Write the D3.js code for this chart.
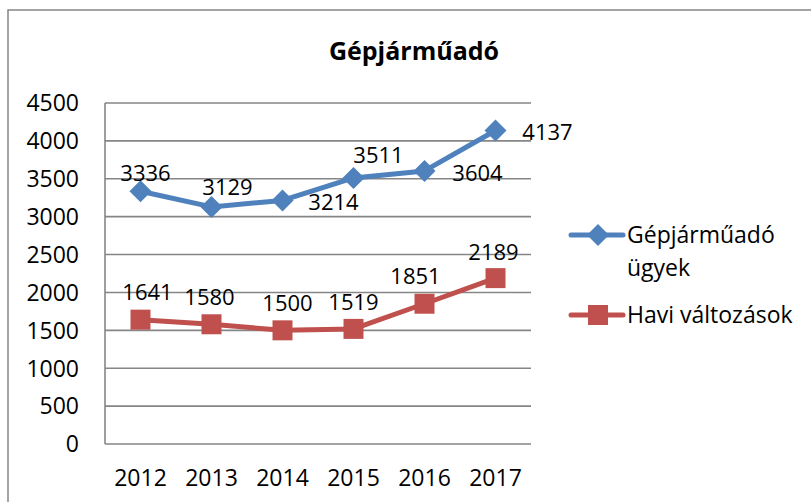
<!DOCTYPE html>
<html>
<head>
<meta charset="utf-8">
<script src="https://cdn.jsdelivr.net/npm/d3@7"></script>
<style>
  body { margin: 0; background: #fff; }
  text { font-family: "Open Sans", "Liberation Sans", sans-serif; fill: #000; }
</style>
</head>
<body>
<svg id="chart" width="811" height="502"></svg>
<script>
// data
var years = ["2012", "2013", "2014", "2015", "2016", "2017"];
var ugyek = [3336, 3129, 3214, 3511, 3604, 4137];   // Gépjárműadó ügyek
var havi = [1641, 1580, 1500, 1519, 1851, 2189];    // Havi változások
var yTicks = [0, 500, 1000, 1500, 2000, 2500, 3000, 3500, 4000, 4500];
var seriesNames = [["Gépjárműadó", "ügyek"], ["Havi változások"]];

// label offsets (manual placement like in the original)
var ugyekOff = [[5, -18], [16, -20], [51, 2], [25, -23], [53, 2], [52, 2]];
var haviOff = [[7, -28], [-2, -27], [5, -27], [0, -27], [-9, -28], [-2, -26]];

var svg = d3.select("#chart");

// outer chart border (only left/top visible in the picture)
svg.append("rect")
    .attr("x", 8).attr("y", 10)
    .attr("width", 900).attr("height", 600)
    .attr("fill", "none")
    .attr("stroke", "#878787")
    .attr("stroke-width", 1.5);

var plot = { left: 105, top: 103, right: 531, bottom: 444 };

var x = d3.scaleBand().domain(years).range([plot.left, plot.right]);
var y = d3.scaleLinear().domain([0, 4500]).range([plot.bottom, plot.top]);
var cx = function(d) { return x(d) + x.bandwidth() / 2; };

// gridlines
svg.append("g").selectAll("line")
    .data(yTicks)
    .enter().append("line")
    .attr("x1", plot.left).attr("x2", plot.right)
    .attr("y1", function(d) { return y(d); })
    .attr("y2", function(d) { return y(d); })
    .attr("stroke", "#868686")
    .attr("stroke-width", 1.6);

// y axis line
svg.append("line")
    .attr("x1", plot.left).attr("x2", plot.left)
    .attr("y1", plot.top).attr("y2", plot.bottom)
    .attr("stroke", "#868686").attr("stroke-width", 1.6);

// y tick labels
svg.append("g").selectAll("text")
    .data(yTicks)
    .enter().append("text")
    .attr("x", 79)
    .attr("y", function(d) { return y(d); })
    .attr("dy", "0.36em")
    .attr("text-anchor", "end")
    .style("font-size", "23px")
    .text(function(d) { return d; });

// x tick labels
svg.append("g").selectAll("text")
    .data(years)
    .enter().append("text")
    .attr("x", cx)
    .attr("y", 486)
    .attr("text-anchor", "middle")
    .style("font-size", "23px")
    .text(function(d) { return d; });

// title
svg.append("text")
    .attr("x", 414).attr("y", 60)
    .attr("text-anchor", "middle")
    .style("font-size", "25px")
    .style("font-weight", "bold")
    .text("Gépjárműadó");

var line = d3.line()
    .x(function(d, i) { return cx(years[i]); })
    .y(function(d) { return y(d); });

function drawSeries(vals, offs, color, shape) {
    var g = svg.append("g");
    g.append("path")
        .datum(vals)
        .attr("d", line)
        .attr("fill", "none")
        .attr("stroke", color)
        .attr("stroke-width", 5)
        .attr("stroke-linejoin", "round");

    g.selectAll(".m")
        .data(vals)
        .enter().append("path")
        .attr("class", "m")
        .attr("transform", function(d, i) {
            return "translate(" + cx(years[i]) + "," + y(d) + ")";
        })
        .attr("d", shape)
        .attr("fill", color);

    g.selectAll(".lbl")
        .data(vals)
        .enter().append("text")
        .attr("class", "lbl")
        .attr("x", function(d, i) { return cx(years[i]) + offs[i][0]; })
        .attr("y", function(d, i) { return y(d) + offs[i][1]; })
        .attr("dy", "0.36em")
        .attr("text-anchor", "middle")
        .style("font-size", "22px")
        .text(function(d) { return d; });
}

var diamond = "M0,-11L11,0L0,11L-11,0Z";
var square = "M-10,-10H10V10H-10Z";

drawSeries(ugyek, ugyekOff, "#4f81bd", diamond);
drawSeries(havi, haviOff, "#c0504d", square);

// legend
var legend = svg.append("g");
var legendRows = [
    { color: "#4f81bd", shape: diamond, y: 235, lines: seriesNames[0] },
    { color: "#c0504d", shape: square, y: 315, lines: seriesNames[1] }
];
legendRows.forEach(function(r) {
    legend.append("line")
        .attr("x1", 571).attr("x2", 623)
        .attr("y1", r.y).attr("y2", r.y)
        .attr("stroke", r.color).attr("stroke-width", 5)
        .attr("stroke-linecap", "round");
    legend.append("path")
        .attr("transform", "translate(598," + r.y + ")")
        .attr("d", r.shape)
        .attr("fill", r.color);
    r.lines.forEach(function(t, i) {
        legend.append("text")
            .attr("x", 627)
            .attr("y", r.y + i * 33)
            .attr("dy", "0.36em")
            .style("font-size", "23px")
            .text(t);
    });
});
</script>
</body>
</html>
